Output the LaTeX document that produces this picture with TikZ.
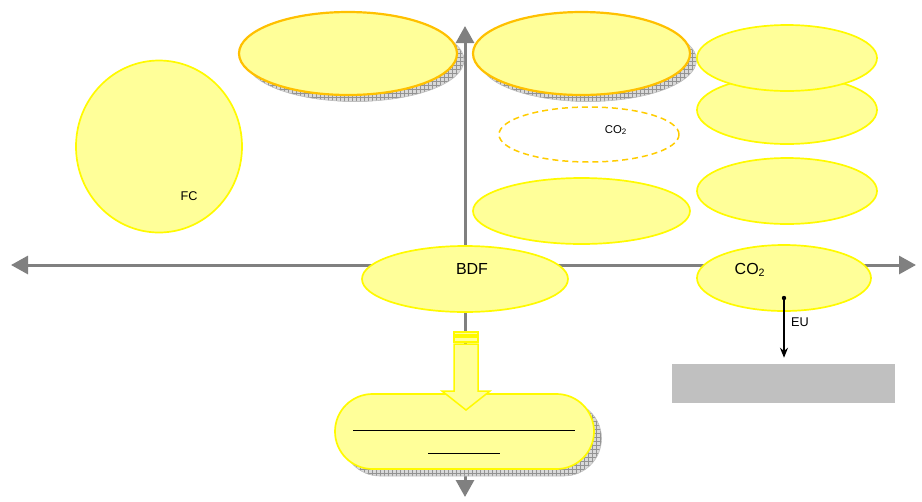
\documentclass[tikz,border=0pt]{standalone}
\usepackage{fontspec}
\setmainfont{Liberation Sans}
\usetikzlibrary{shapes.geometric,arrows.meta,patterns}
\newlength{\px}\setlength{\px}{0.75pt}
\definecolor{paleyellow}{HTML}{FFFF99}
\definecolor{lineyellow}{HTML}{FFFA00}
\definecolor{lineorange}{HTML}{FFC000}
\definecolor{dashgold}{HTML}{FFCC00}
\definecolor{axisgray}{HTML}{808080}
\definecolor{boxgray}{HTML}{C0C0C0}
\begin{document}
\begin{tikzpicture}[x=0.75pt,y=-0.75pt,
  blob/.style={ellipse, draw=lineyellow, fill=paleyellow, line width=1.7\px, inner sep=0pt},
  topblob/.style={blob, draw=lineorange, line width=2.2\px},
  hatch/.style={draw=gray!50, line width=0.6\px, preaction={fill=gray!30},
                pattern=grid, pattern color=gray!85, inner sep=0pt},
  axis/.style={draw=axisgray, line width=3\px,
               {Triangle[length=12.75pt,width=13.5pt]}-{Triangle[length=12.75pt,width=13.5pt]}},
  big/.style={font=\fontsize{12}{14}\selectfont},
  small/.style={font=\fontsize{9.5}{11}\selectfont},
  tiny/.style={font=\fontsize{8.5}{10}\selectfont}]
\useasboundingbox (0,0) rectangle (922,501);

% axes
\coordinate (west) at (11,265);
\coordinate (east) at (916,265);
\coordinate (north) at (465,26);
\coordinate (south) at (465,497);
\draw[axis] (west) -- (east);
\draw[axis] (north) -- (south);

% upper pair with hatched shadows
\node[hatch, ellipse, minimum width=218\px, minimum height=83\px] (tlshadow) at (355,60) {};
\node[topblob, minimum width=218\px, minimum height=83\px] (tl) at (348,53.5) {};
\node[hatch, ellipse, minimum width=217\px, minimum height=83\px] (trshadow) at (588,60) {};
\node[topblob, minimum width=217\px, minimum height=83\px] (tr) at (581.5,53.5) {};

% right column
\node[blob, minimum width=180\px, minimum height=68\px] (r2) at (787,110) {};
\node[blob, minimum width=180\px, minimum height=66\px] (r1) at (787,58) {};
\node[blob, minimum width=180\px, minimum height=66\px] (r3) at (787,191) {};

% dashed CO2
\node[ellipse, draw=dashgold, line width=1.5\px, dash pattern=on 4.5pt off 3pt,
      minimum width=180\px, minimum height=55\px, inner sep=0pt] (dash) at (589,134.5) {};
\node[tiny] (dashtxt) at (616,130) {CO\textsubscript{2}};

% middle right
\node[blob, minimum width=217\px, minimum height=66\px] (mid) at (581.5,211) {};

% FC circle
\node[blob, minimum width=166\px, minimum height=172\px] (fc) at (159,146.5) {};
\node[small] (fctxt) at (189,196) {FC};

% BDF
\node[blob, minimum width=206\px, minimum height=66\px] (bdf) at (465,279) {};
\node[big] (bdftxt) at (472,269) {BDF};

% CO2 on the axis
\node[blob, minimum width=174\px, minimum height=66\px] (co2) at (784,278) {};
\node[big] (co2txt) at (750,270) {CO\textsubscript{2}};

% grey box and EU link
\node[fill=boxgray, minimum width=223\px, minimum height=39\px, inner sep=0pt] (grey) at (783.5,383.5) {};
\coordinate (eudot) at (784,298);
\fill (eudot) circle (2.2\px);
\draw[line width=1.1\px, -{Stealth[length=7.5pt,width=6pt]}, shorten >=6\px]
  (eudot) -- (eudot |- grey.north);
\node[small] (eutxt) at (800,322) {EU};

% rounded box with hatched shadow
\node[hatch, rectangle, rounded corners=37.5\px, minimum width=259\px, minimum height=75\px] (capshadow) at (472,438.5) {};
\node[rectangle, rounded corners=37.5\px, draw=lineyellow, fill=paleyellow, line width=1.7\px,
      minimum width=259\px, minimum height=75\px, inner sep=0pt] (cap) at (464.5,431.5) {};
\draw[line width=1\px] (353,430) -- (575,430);
\draw[line width=1\px] (428,453) -- (500,453);

% block arrow into the rounded box
\draw[draw=lineyellow, fill=paleyellow, line width=1.5\px] (454,332) rectangle (478,335);
\draw[draw=lineyellow, fill=paleyellow, line width=1.5\px] (454,337) rectangle (478,342);
\draw[draw=lineyellow, fill=paleyellow, line width=1.5\px, line join=miter]
  (454,344) -- (478,344) -- (478,391) -- (490,391) -- (466,410) -- (442,391) -- (454,391) -- cycle;
\end{tikzpicture}
\end{document}
